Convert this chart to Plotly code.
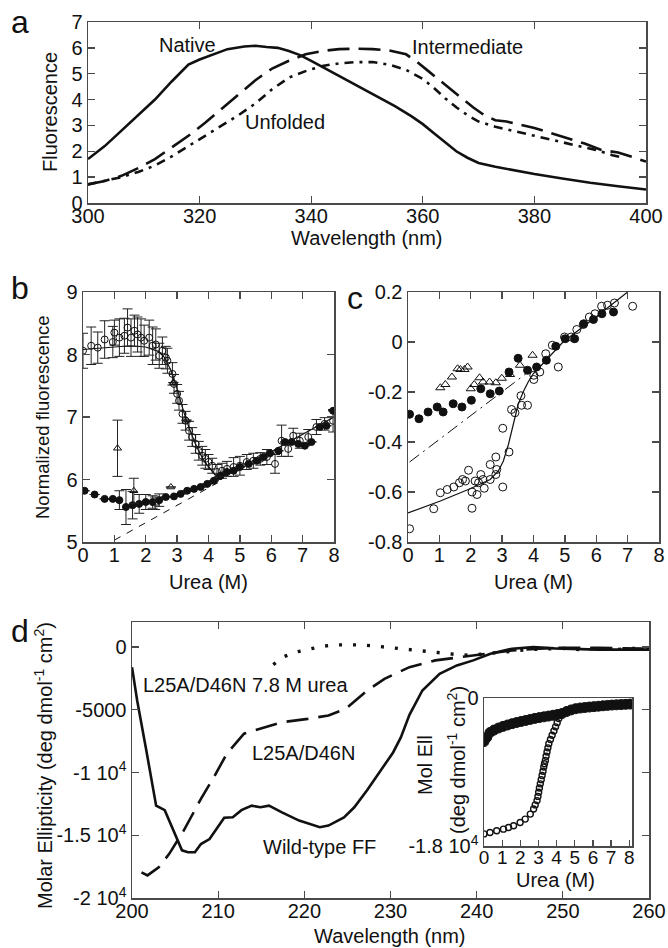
import plotly.graph_objects as go

W, H = 668, 948

# ---------------- Panel a : fluorescence spectra ----------------
a_native_x = [300, 303, 306, 309, 312, 315, 318, 320, 322, 325, 328, 330, 332, 334, 336, 338, 340, 343, 346, 349,
              352, 355, 358, 360, 362, 364, 366, 368, 370, 373, 376, 380, 385, 390, 395, 400]
a_native_y = [1.7, 2.2, 2.8, 3.4, 4.0, 4.7, 5.35, 5.55, 5.7, 5.95, 6.05, 6.08, 6.03, 6.0, 5.88, 5.72, 5.5, 5.15, 4.8, 4.45,
              4.1, 3.75, 3.35, 3.05, 2.7, 2.35, 2.0, 1.75, 1.55, 1.4, 1.28, 1.12, 0.95, 0.78, 0.65, 0.52]
a_inter_x = [300, 303, 306, 309, 312, 315, 318, 321, 324, 327, 330, 333, 336, 339, 342, 345, 348, 351, 354, 357,
             359, 361, 363, 365, 367, 369, 371, 373, 375, 377, 380, 383, 386, 389, 392, 395, 398, 400]
a_inter_y = [0.72, 0.85, 1.05, 1.35, 1.7, 2.15, 2.6, 3.1, 3.65, 4.2, 4.75, 5.2, 5.5, 5.75, 5.88, 5.95, 5.97, 5.95, 5.9, 5.75,
             5.45, 5.1, 4.75, 4.4, 4.05, 3.7, 3.4, 3.2, 3.15, 3.05, 2.9, 2.7, 2.5, 2.3, 2.05, 1.95, 1.75, 1.6]
a_unf_x = [300, 303, 306, 309, 312, 315, 318, 321, 324, 327, 330, 333, 336, 339, 342, 345, 348, 351, 354, 357,
           360, 362, 364, 366, 368, 370, 373, 376, 379, 382, 385, 388, 391, 394, 396]
a_unf_y = [0.72, 0.85, 1.0, 1.2, 1.45, 1.8, 2.2, 2.6, 3.0, 3.4, 3.85, 4.4, 4.85, 5.1, 5.3, 5.4, 5.45, 5.45, 5.35, 5.15,
           4.8, 4.45, 4.05, 3.7, 3.4, 3.15, 2.95, 2.8, 2.65, 2.5, 2.35, 2.2, 2.05, 1.85, 1.75]
a_xticks = [300, 320, 340, 360, 380, 400]
a_yticks = [0, 1, 2, 3, 4, 5, 6, 7]

# ---------------- Panel b : normalized fluorescence vs urea ----------------
b_open_x = [0.0, 0.26, 0.47, 0.69, 0.95, 1.0, 1.16, 1.32, 1.42, 1.53, 1.64, 1.74, 1.85, 1.95, 2.11, 2.22, 2.32, 2.43,
            2.53, 2.64, 2.69, 2.85, 2.9, 3.0, 3.06, 3.17, 3.27, 3.38, 3.48, 3.59, 3.69, 3.8, 3.9, 4.0, 4.12, 4.27,
            4.43, 4.59, 4.8, 5.0, 5.22, 5.43, 5.65, 5.86, 6.12, 6.33, 6.54, 6.7, 6.91, 7.18, 7.44, 7.7, 7.97]
b_open_y = [8.06, 8.14, 8.11, 8.24, 8.2, 8.35, 8.27, 8.3, 8.43, 8.27, 8.38, 8.32, 8.27, 8.22, 8.27, 8.14, 8.16, 7.98,
            8.06, 7.95, 7.9, 7.69, 7.53, 7.37, 7.26, 7.05, 6.94, 6.78, 6.68, 6.57, 6.46, 6.38, 6.33, 6.28, 6.22, 6.12,
            6.14, 6.17, 6.2, 6.22, 6.28, 6.3, 6.33, 6.36, 6.25, 6.62, 6.49, 6.7, 6.62, 6.68, 6.84, 6.89, 6.94]
b_open_err = [0.28, 0.3, 0.25, 0.3, 0.25, 0.2, 0.3, 0.28, 0.3, 0.3, 0.25, 0.28, 0.3, 0.25, 0.28, 0.3, 0.25, 0.2,
              0.22, 0.18, 0.2, 0.18, 0.15, 0.15, 0.15, 0.15, 0.15, 0.15, 0.15, 0.15, 0.15, 0.15, 0.15, 0.12, 0.12, 0.12,
              0.12, 0.12, 0.15, 0.15, 0.12, 0.12, 0.1, 0.12, 0.15, 0.25, 0.12, 0.12, 0.12, 0.12, 0.12, 0.1, 0.18]
b_filled_x = [0.05, 0.37, 0.69, 0.95, 1.16, 1.37, 1.58, 1.79, 2.0, 2.22, 2.43, 2.64, 2.9, 3.11, 3.32, 3.54, 3.75, 3.96,
              4.17, 4.38, 4.59, 4.8, 5.0, 5.28, 5.54, 5.75, 5.96, 6.23, 6.44, 6.65, 6.86, 7.07, 7.28, 7.55, 7.76, 7.97]
b_filled_y = [5.82, 5.76, 5.69, 5.69, 5.67, 5.56, 5.59, 5.61, 5.64, 5.64, 5.67, 5.72, 5.73, 5.77, 5.82, 5.85, 5.88, 5.93,
              5.98, 6.06, 6.12, 6.14, 6.2, 6.25, 6.3, 6.36, 6.42, 6.46, 6.6, 6.6, 6.57, 6.54, 6.6, 6.84, 6.86, 7.1]
b_filled_err = [0, 0, 0, 0, 0.15, 0.28, 0.22, 0.15, 0.12, 0.1, 0.1, 0, 0, 0, 0, 0, 0, 0,
                0, 0, 0, 0, 0, 0, 0, 0, 0, 0, 0, 0, 0, 0, 0, 0, 0, 0]
b_tri_x = [1.1, 1.62, 2.3, 2.8, 2.88, 3.3, 4.35]
b_tri_y = [6.5, 5.82, 5.62, 5.88, 7.55, 6.95, 6.05]
b_tri_err = [0.45, 0.2, 0.1, 0, 0, 0, 0]
b_fit_x = [0, 0.5, 1, 1.5, 2, 2.4, 2.6, 2.8, 3.0, 3.2, 3.4, 3.6, 3.8, 4.0, 4.2, 4.5, 5, 6, 7, 8]
b_fit_y = [8.08, 8.1, 8.12, 8.14, 8.12, 8.05, 7.95, 7.75, 7.45, 7.1, 6.8, 6.55, 6.35, 6.2, 6.08, 6.06, 6.17, 6.45, 6.72, 7.0]
b_base_x = [1.0, 4.3]
b_base_y = [5.03, 5.95]

# ---------------- Panel c ----------------
c_open_x = [0.05, 0.82, 1.03, 1.25, 1.46, 1.64, 1.74, 1.83, 1.93, 2.04, 2.04, 2.14, 2.2, 2.25, 2.32, 2.39, 2.43, 2.62,
            2.62, 2.8, 2.8, 2.83, 3.02, 3.02, 3.22, 3.3, 3.41, 3.6, 3.62, 3.81, 4.01, 4.01, 4.2, 4.39, 4.6, 4.79,
            4.99, 5.2, 5.38, 5.59, 5.78, 5.96, 6.17, 6.36, 6.58, 7.16]
c_open_y = [-0.747, -0.667, -0.603, -0.59, -0.58, -0.563, -0.55, -0.556, -0.513, -0.6, -0.665, -0.556, -0.61, -0.563,
            -0.53, -0.55, -0.585, -0.55, -0.49, -0.46, -0.53, -0.51, -0.58, -0.345, -0.44, -0.27, -0.283, -0.215,
            -0.253, -0.253, -0.15, -0.133, -0.12, -0.047, -0.013, -0.1, 0.02, 0.02, 0.05, 0.07, 0.1, 0.113, 0.143,
            0.147, 0.156, 0.143]
c_filled_x = [0.05, 0.35, 0.64, 0.93, 1.12, 1.44, 1.72, 2.02, 2.32, 2.62, 2.91, 3.22, 3.51, 3.81, 4.1, 4.41, 4.71,
              5.01, 5.31, 5.6, 5.91, 6.18, 6.55]
c_filled_y = [-0.289, -0.307, -0.28, -0.26, -0.28, -0.247, -0.26, -0.233, -0.187, -0.207, -0.196, -0.12, -0.065,
              -0.113, -0.1, -0.073, -0.017, 0.013, 0.013, 0.073, 0.09, 0.113, 0.12]
c_tri_x = [1.03, 1.19, 1.4, 1.58, 1.67, 1.8, 1.9, 2.0, 2.11, 2.28, 2.39, 2.6, 2.8, 2.99, 3.25, 3.57, 3.97]
c_tri_y = [-0.183, -0.17, -0.14, -0.107, -0.11, -0.11, -0.1, -0.187, -0.17, -0.143, -0.16, -0.16, -0.163, -0.145,
           -0.13, -0.093, -0.053]
c_fit_x = [0, 1.03, 1.98, 2.62, 2.88, 3.04, 3.2, 3.36, 3.51, 3.67, 3.83, 3.99, 4.2, 4.94, 5.99, 7.0]
c_fit_y = [-0.684, -0.636, -0.587, -0.55, -0.516, -0.476, -0.41, -0.33, -0.25, -0.2, -0.16, -0.127, -0.1, 0.0, 0.1, 0.2]
c_base_x = [0.05, 3.8]
c_base_y = [-0.48, -0.123]

# ---------------- Panel d : CD spectra ----------------
d_wt_x = [200, 200.6, 201.6, 202.8, 203.8, 204.5, 205.8, 206.5, 207.3, 208, 209, 210.7, 211.7, 212.7, 213.9, 214.9,
          215.9, 217.4, 219.4, 221.8, 222.8, 224.6, 225.8, 227.3, 228.8, 230.3, 231.2, 232.2, 233.7, 235.7, 237.7,
          239.6, 241.6, 244.1, 246.6, 249, 254, 260]
d_wt_y = [-1600, -4250, -8000, -12640, -13000, -14100, -16200, -16350, -16350, -15700, -15300, -13600, -13560, -13000,
          -12640, -12770, -12640, -13170, -13830, -14360, -14230, -13570, -12770, -11400, -9900, -8400, -7200, -5400,
          -3460, -2130, -1460, -1060, -530, -130, 0, -100, -200, -200]
d_mut_x = [201.1, 201.8, 203.1, 204.3, 206, 208, 209.5, 211, 213, 214.9, 217.4, 220.4, 222.8, 224.8, 227.3, 229.3,
           232.2, 235.2, 238.2, 241.1, 244.1, 249, 254, 260]
d_mut_y = [-17950, -18200, -17560, -16500, -14630, -12100, -10370, -8500, -6900, -6500, -5990, -5720, -5450, -4920,
           -3460, -2530, -1600, -1060, -800, -530, -270, -50, -50, -130]
d_unf_x = [216.4, 217.5, 219, 220.5, 222, 223.5, 225, 226.5, 228, 229.5, 231, 232.5, 234, 235.5, 237, 238.5, 240,
           242, 244, 246, 248, 250, 252, 254, 256, 258, 260]
d_unf_y = [-1400, -800, -400, -150, 50, 180, 200, 180, 100, 0, -150, -250, -330, -400, -500, -650, -600, -450, -300,
           -200, -150, -100, -200, -100, -200, -100, -150]
d_yticks = [0, -5000, -10000, -15000, -20000]
d_yticktext = ["0", "-5000", "-1 10<sup>4</sup>", "-1.5 10<sup>4</sup>", "-2 10<sup>4</sup>"]

# inset (urea denaturation by CD)
ins_f_x = [0, 0.15, 0.33, 0.55, 0.8, 1.05, 1.3, 1.55, 1.8, 2.05, 2.3, 2.55, 2.8, 3.05, 3.3, 3.55, 3.8, 4.05, 4.3,
           4.55, 4.8, 5.05, 5.3, 5.55, 5.8, 6.05, 6.3, 6.55, 6.8, 7.05, 7.3, 7.55, 7.8, 8.05]
ins_f_y = [-5300, -4800, -4200, -3900, -3650, -3450, -3280, -3120, -2980, -2850, -2730, -2600, -2480, -2380, -2290,
           -2200, -2100, -2000, -1880, -1650, -1450, -1300, -1220, -1160, -1100, -1050, -1000, -950, -900, -860,
           -830, -800, -770, -740]
ins_o_x = [0, 0.33, 0.7, 1.07, 1.35, 1.63, 1.99, 2.27, 2.55, 2.73, 2.82, 2.92, 2.97, 3.01, 3.05, 3.1, 3.15, 3.2, 3.25,
           3.29, 3.33, 3.38, 3.42, 3.47, 3.52, 3.57, 3.66, 3.75, 3.85, 3.94, 4.03, 4.12, 4.3, 4.58, 5.0, 5.5, 6.0,
           6.5, 7.0, 7.5, 8.0]
ins_o_y = [-16530, -16360, -16150, -15950, -15750, -15540, -15140, -14730, -14120, -13500, -13000, -12480, -11970,
           -11460, -10950, -10440, -9930, -9420, -8910, -8400, -8000, -7590, -7080, -6570, -6060, -5550, -5040,
           -4530, -4020, -3510, -3000, -2490, -1870, -1460, -1250, -1150, -1080, -1000, -900, -820, -760]

FONT = "Liberation Sans, Arial, sans-serif"
INK = "#111111"
FRAME = "#4a4a4a"


def px_x(p):
    return p / W


def px_y(p):
    return 1 - p / H


fig = go.Figure()


def line(x, y, xa, ya, dash="solid", width=2.5):
    fig.add_trace(go.Scatter(x=x, y=y, mode="lines", xaxis=xa, yaxis=ya,
                             line=dict(color=INK, width=width, dash=dash), hoverinfo="skip"))


def pts(x, y, xa, ya, symbol, size, err=None, lw=1.0):
    kw = {}
    if err is not None:
        kw["error_y"] = dict(type="data", array=err, visible=True, color="#222", thickness=1, width=5)
    fig.add_trace(go.Scatter(x=x, y=y, mode="markers", xaxis=xa, yaxis=ya,
                             marker=dict(symbol=symbol, size=size, color=INK, line=dict(color=INK, width=lw)),
                             hoverinfo="skip", **kw))


# panel a
line(a_native_x, a_native_y, "x", "y", "solid", 2.6)
line(a_inter_x, a_inter_y, "x", "y", "22px,9px", 2.6)
line(a_unf_x, a_unf_y, "x", "y", "9px,6px,3px,6px", 2.6)

# panel b
line(b_base_x, b_base_y, "x2", "y2", "7px,7px", 1.0)
line(b_fit_x, b_fit_y, "x2", "y2", "solid", 1.2)
pts(b_open_x, b_open_y, "x2", "y2", "circle-open", 7, b_open_err)
pts(b_filled_x, b_filled_y, "x2", "y2", "circle", 7, b_filled_err)
pts(b_tri_x, b_tri_y, "x2", "y2", "triangle-up-open", 7, b_tri_err)

# panel c
line(c_base_x, c_base_y, "x3", "y3", "12px,5px,2px,5px", 1.0)
line(c_fit_x, c_fit_y, "x3", "y3", "solid", 1.2)
pts(c_open_x, c_open_y, "x3", "y3", "circle-open", 8)
pts(c_filled_x, c_filled_y, "x3", "y3", "circle", 8)
pts(c_tri_x, c_tri_y, "x3", "y3", "triangle-up-open", 8)

# panel d
line(d_wt_x, d_wt_y, "x4", "y4", "solid", 2.6)
line(d_mut_x, d_mut_y, "x4", "y4", "22px,10px", 2.6)
line(d_unf_x, d_unf_y, "x4", "y4", "3px,11px", 3.4)

# inset
pts(ins_f_x, ins_f_y, "x5", "y5", "circle", 10)
pts(ins_o_x, ins_o_y, "x5", "y5", "circle-open", 6, lw=1.4)


def axis(domain, rng, tickvals, ticktext, anchor, size=20, **kw):
    d = dict(domain=domain, range=rng, tickvals=tickvals, ticktext=ticktext, anchor=anchor,
             showline=True, linecolor=FRAME, linewidth=1.5, mirror="allticks", ticks="inside",
             ticklen=7, tickwidth=1.3, tickcolor=FRAME, showgrid=False, zeroline=False, automargin=False,
             tickfont=dict(size=size, color=INK, family=FONT), fixedrange=True)
    d.update(kw)
    return d


ticks08 = [0, 1, 2, 3, 4, 5, 6, 7, 8]
layout = dict(
    width=W, height=H, margin=dict(l=0, r=0, t=0, b=0, pad=0, autoexpand=False), showlegend=False,
    paper_bgcolor="white", plot_bgcolor="white", font=dict(family=FONT, color=INK),
    xaxis=axis([px_x(88), px_x(646)], [300, 400], a_xticks, [str(v) for v in a_xticks], "y", ticklabelstandoff=-6),
    yaxis=axis([px_y(203), px_y(22)], [0, 7], a_yticks, [str(v) for v in a_yticks], "x"),
    xaxis2=axis([px_x(83), px_x(334)], [0, 8], ticks08, [str(v) for v in ticks08], "y2", ticklabelstandoff=-6),
    yaxis2=axis([px_y(542), px_y(292)], [5, 9], [5, 6, 7, 8, 9], ["5", "6", "7", "8", "9"], "x2"),
    xaxis3=axis([px_x(408), px_x(659)], [0, 8], ticks08, [str(v) for v in ticks08], "y3", ticklabelstandoff=-6),
    yaxis3=axis([px_y(542), px_y(292)], [-0.8, 0.2], [-0.8, -0.6, -0.4, -0.2, 0, 0.2],
                ["-0.8", "-0.6", "-0.4", "-0.2", "0", "0.2"], "x3"),
    xaxis4=axis([px_x(132), px_x(649)], [200, 260], [200, 210, 220, 230, 240, 250, 260],
                ["200", "210", "220", "230", "240", "250", "260"], "y4", ticklabelstandoff=-6),
    yaxis4=axis([px_y(898), px_y(622)], [-20000, 2000], d_yticks, d_yticktext, "x4"),
    xaxis5=axis([px_x(484), px_x(632)], [0, 8.15], ticks08, [str(v) for v in ticks08], "y5",
                mirror=True, ticklen=6, ticklabelstandoff=-6, size=19),
    yaxis5=axis([px_y(846), px_y(698)], [-18000, 0], [-18000, 0], ["-1.8 10<sup>4</sup>", "0"], "x5",
                mirror=True, ticks=""),
)

ann = []


def text(t, x, y, size=20, xanchor="center", angle=0):
    ann.append(dict(text=t, x=px_x(x), y=px_y(y), xref="paper", yref="paper", showarrow=False,
                    xanchor=xanchor, yanchor="middle", textangle=angle,
                    font=dict(size=size, color=INK, family=FONT)))


# panel letters
text("a", 20, 22, 32)
text("b", 20, 288, 32)
text("c", 355, 298, 32)
text("d", 20, 631, 32)
# axis titles
text("Fluorescence", 50, 112, 20, angle=-90)
text("Wavelength (nm)", 367, 238, 20)
text("Normalized fluorescence", 42, 417, 18.5, angle=-90)
text("Urea (M)", 208, 582, 20)
text("Urea (M)", 533, 582, 20)
text("Molar Ellipticity (deg dmol<sup>-1</sup> cm<sup>2</sup>)", 43, 766, 20, angle=-90)
text("Wavelength (nm)", 390, 936, 20)
text("Mol Ell", 425, 765, 20, angle=-90)
text("(deg dmol<sup>-1</sup> cm<sup>2</sup>)", 456, 760, 20, angle=-90)
text("Urea (M)", 555, 880, 20)
# series labels
text("Native", 187, 45, 20)
text("Intermediate", 467, 47, 20)
text("Unfolded", 285, 122, 20)
text("L25A/D46N 7.8 M urea", 141, 685, 20, xanchor="left")
text("L25A/D46N", 250, 753, 20, xanchor="left")
text("Wild-type FF", 261, 847, 20, xanchor="left")

layout["annotations"] = ann
fig.update_layout(**layout)
fig.write_html("out.html", config={"displayModeBar": False, "staticPlot": True},
               post_script="document.body.style.margin='0';document.body.style.overflow='hidden';")
